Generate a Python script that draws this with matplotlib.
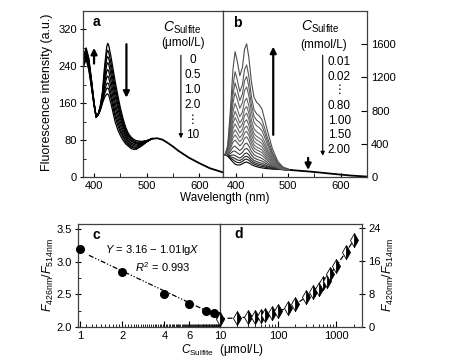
import matplotlib
matplotlib.use('Agg')
import matplotlib.pyplot as plt
import numpy as np
from matplotlib.ticker import NullFormatter, LogLocator

plt.rcParams['font.family'] = ['Liberation Sans', 'DejaVu Sans']
plt.rcParams['mathtext.fontset'] = 'custom'
plt.rcParams['mathtext.rm'] = 'Liberation Sans'
plt.rcParams['mathtext.it'] = 'Liberation Sans:italic'
plt.rcParams['mathtext.bf'] = 'Liberation Sans:bold'
plt.rcParams['font.size'] = 8

# ---------------- Panel a data (umol/L) ----------------
conc_a = ['0', '0.5', '1.0', '2.0', '4.0', '6.0', '8.0', '9.0', '10']
wl_a = [380, 385, 390, 395, 400, 404, 408, 412, 416, 420, 424, 426, 428, 432,
        436, 440, 445, 450, 455, 460, 465, 470, 475, 480, 490, 500, 510]
spec_a0 = [240, 255, 232, 195, 155, 130, 137, 155, 185, 240, 282, 290, 285, 262, 235, 208, 178, 150, 127, 108, 95, 87, 82, 79, 77, 79, 83]
spec_a1 = [243, 259, 236, 197, 156, 130, 137, 154, 182, 231, 268, 275, 270, 248, 222, 196, 168, 142, 120, 103, 91, 84, 79, 76, 76, 79, 83]
spec_a2 = [246, 262, 239, 199, 157, 130, 137, 152, 179, 223, 256, 261, 257, 236, 210, 185, 159, 134, 115, 99, 88, 81, 76, 74, 74, 78, 83]
spec_a3 = [248, 265, 242, 201, 158, 130, 136, 151, 176, 215, 243, 248, 244, 223, 199, 175, 150, 127, 109, 94, 84, 78, 74, 72, 73, 78, 83]
spec_a4 = [251, 268, 246, 204, 159, 130, 136, 150, 172, 205, 229, 233, 229, 209, 186, 162, 139, 119, 103, 89, 80, 74, 71, 69, 72, 77, 83]
spec_a5 = [254, 271, 249, 206, 160, 130, 136, 149, 169, 196, 216, 219, 215, 196, 173, 151, 129, 111, 96, 85, 77, 71, 68, 67, 71, 77, 83]
spec_a6 = [257, 275, 252, 208, 160, 130, 135, 147, 166, 188, 202, 204, 201, 182, 161, 139, 120, 103, 90, 80, 73, 68, 65, 64, 69, 77, 83]
spec_a7 = [259, 277, 255, 210, 161, 130, 135, 146, 163, 181, 192, 193, 190, 172, 151, 131, 112, 97, 86, 76, 70, 65, 63, 62, 68, 76, 83]
spec_a8 = [262, 280, 258, 212, 162, 130, 135, 145, 160, 173, 180, 180, 177, 160, 140, 120, 103, 90, 80, 72, 67, 62, 60, 60, 67, 76, 83]
spectra_a = [spec_a0, spec_a1, spec_a2, spec_a3, spec_a4, spec_a5, spec_a6, spec_a7, spec_a8]
wl_a_tail = [510, 520, 530, 540, 550, 560, 580, 600, 620, 645]
tail_a = [83, 84, 81, 74, 66, 57, 42, 30, 19, 10]

# ---------------- Panel b data (mmol/L) ----------------
conc_b = ['0.01', '0.02', '0.80', '1.00', '1.50', '2.00']
wl_b = [376, 380, 385, 390, 395, 399, 403, 408, 413, 417, 421, 425, 430, 435,
        440, 445, 450, 455, 460, 470, 480, 490, 505]
spectra_b = [
    [265, 270, 250, 215, 180, 155, 145, 145, 160, 175, 180, 170, 150, 135, 125, 115, 110, 105, 100, 95, 92, 88, 84],
    [265, 270, 253, 230, 208, 189, 176, 172, 189, 209, 216, 202, 175, 156, 144, 134, 128, 120, 112, 101, 94, 89, 84],
    [265, 270, 256, 244, 235, 221, 207, 198, 217, 242, 250, 233, 199, 175, 163, 152, 145, 134, 123, 107, 97, 90, 84],
    [265, 270, 260, 260, 266, 259, 242, 228, 249, 280, 290, 269, 227, 199, 185, 173, 165, 151, 136, 114, 100, 90, 84],
    [265, 270, 265, 283, 310, 312, 291, 270, 295, 333, 345, 319, 266, 231, 215, 203, 192, 174, 155, 123, 103, 92, 84],
    [265, 270, 271, 309, 360, 373, 347, 318, 347, 395, 409, 376, 311, 268, 250, 237, 224, 201, 176, 134, 108, 93, 84],
    [265, 270, 278, 340, 420, 445, 414, 375, 408, 467, 485, 444, 364, 312, 291, 277, 262, 232, 201, 147, 113, 95, 84],
    [265, 270, 284, 367, 471, 507, 471, 425, 462, 530, 551, 503, 410, 350, 327, 311, 295, 260, 222, 159, 118, 96, 84],
    [265, 270, 290, 393, 522, 568, 528, 473, 514, 591, 615, 560, 455, 387, 361, 345, 327, 287, 243, 170, 122, 98, 84],
    [265, 270, 297, 424, 581, 640, 594, 530, 575, 664, 690, 628, 508, 430, 403, 385, 364, 318, 268, 183, 127, 100, 84],
    [265, 270, 304, 457, 644, 716, 665, 590, 640, 740, 770, 700, 564, 477, 446, 428, 404, 351, 295, 196, 133, 101, 84],
    [265, 270, 311, 490, 706, 792, 735, 650, 705, 817, 850, 772, 620, 523, 489, 470, 444, 385, 321, 210, 138, 103, 84],
    [265, 270, 320, 531, 785, 887, 823, 726, 786, 912, 950, 861, 690, 581, 544, 523, 493, 426, 354, 227, 145, 105, 84],
    [265, 270, 333, 587, 891, 1015, 942, 828, 897, 1042, 1085, 983, 785, 659, 617, 594, 561, 483, 399, 251, 154, 108, 84],
    [265, 270, 344, 638, 990, 1135, 1052, 922, 999, 1162, 1210, 1095, 873, 732, 685, 661, 623, 535, 440, 272, 163, 111, 84],
    [265, 270, 357, 695, 1100, 1268, 1175, 1028, 1112, 1296, 1350, 1221, 971, 812, 761, 735, 693, 594, 486, 296, 173, 114, 84],
    [260, 270, 380, 800, 1300, 1510, 1400, 1220, 1320, 1540, 1605, 1450, 1150, 960, 900, 870, 820, 700, 570, 340, 190, 120, 84],
]
colors_b = ['0.0', '0.1', '0.15', '0.2', '0.25', '0.3', '0.35', '0.4', '0.4',
            '0.4', '0.4', '0.4', '0.4', '0.38', '0.36', '0.34', '0.3']
wl_b_tail = [505, 520, 540, 560, 580, 600, 620, 650]
tail_b = [84, 76, 66, 54, 41, 29, 17, 5]

# ---------------- Panel c data ----------------
c_x = [1, 2, 4, 6, 8, 9, 10]
c_y = [3.19, 2.84, 2.51, 2.36, 2.24, 2.21, 2.17]
c_fit_x = [1.15, 10]
c_fit_y = [3.10, 2.15]
c_ticks = [1, 2, 4, 6, 10]
c_ticklabels = ['1', '2', '4', '6', '10']

# ---------------- Panel d data ----------------
d_x = [10, 20, 30, 40, 50, 60, 80, 100, 150, 200, 300, 400, 500, 600, 700, 800, 1000, 1500, 2000]
d_y = [2.04, 2.2, 2.4, 2.5, 2.6, 2.8, 3.3, 3.8, 4.7, 5.5, 7.2, 8.5, 9.2, 10.6, 11.1, 12.9, 14.8, 18.3, 21.0]

W, H = 450, 363
fig = plt.figure(figsize=(4.5, 3.63), dpi=100)

def rect(l, t, r, b):
    return [l / W, 1 - b / H, (r - l) / W, (b - t) / H]

ax_a = fig.add_axes(rect(83, 11, 223, 177))
ax_b = fig.add_axes(rect(223, 11, 367, 177))
ax_c = fig.add_axes(rect(78, 224, 220, 327))
ax_d = fig.add_axes(rect(220, 224, 362, 327))

for ax in (ax_a, ax_b, ax_c, ax_d):
    for s in ax.spines.values():
        s.set_linewidth(0.9)
        s.set_color('0.25')

def arrow(ax, x, y0, y1, lw=1.6, ms=9):
    ax.annotate('', xy=(x, y1), xytext=(x, y0),
                arrowprops=dict(arrowstyle='-|>', color='black', lw=lw,
                                mutation_scale=ms, shrinkA=0, shrinkB=0))

# ---- panel a ----
for s in spectra_a:
    ax_a.plot(wl_a, s, color='black', lw=0.9)
ax_a.plot(wl_a_tail, tail_a, color='black', lw=1.3)
ax_a.set_xlim(379, 645)
ax_a.set_ylim(0, 360)
ax_a.set_xticks([400, 500, 600])
ax_a.set_xticks([450, 550], minor=True)
ax_a.set_yticks([0, 80, 160, 240, 320])
ax_a.set_yticks([40, 120, 200, 280], minor=True)
ax_a.tick_params(axis='x', which='both', direction='in', length=3, pad=3, labelsize=8)
ax_a.tick_params(axis='y', which='major', direction='inout', length=5, pad=2, labelsize=8)
ax_a.tick_params(axis='y', which='minor', direction='in', length=2.5)
ax_a.text(0.07, 0.935, 'a', transform=ax_a.transAxes, fontsize=10, fontweight='bold', va='center')
ax_a.text(568, 323, r'$C_{\mathrm{Sulfite}}$', fontsize=10, ha='center', va='center')
ax_a.text(569, 290, '(μmol/L)', fontsize=8.5, ha='center', va='center')
labels_a_y = [253, 221, 188.5, 156, 123.5, 91]
labels_a_t = ['0', '0.5', '1.0', '2.0', '⋮', '10']
for yv, t in zip(labels_a_y, labels_a_t):
    ax_a.text(587, yv, t, fontsize=8.5, ha='center', va='center')
arrow(ax_a, 565, 264, 84, lw=0.8, ms=6)
arrow(ax_a, 400, 246, 280, lw=1.6, ms=9)
arrow(ax_a, 461.5, 288, 172, lw=1.6, ms=9)

# ---- panel b ----
for s, c in zip(spectra_b, colors_b):
    ax_b.plot(wl_b, s, color=c, lw=0.8)
ax_b.plot(wl_b_tail, tail_b, color='black', lw=1.3)
ax_b.set_xlim(376, 650)
ax_b.set_ylim(0, 2000)
ax_b.set_xticks([400, 500, 600])
ax_b.set_xticks([450, 550], minor=True)
ax_b.yaxis.tick_right()
ax_b.set_yticks([0, 400, 800, 1200, 1600])
ax_b.tick_params(axis='x', which='both', direction='in', length=3, pad=3, labelsize=8)
ax_b.tick_params(axis='y', direction='in', length=4, pad=3, labelsize=8,
                 left=False, right=True, labelleft=False, labelright=True)
ax_b.text(0.07, 0.925, 'b', transform=ax_b.transAxes, fontsize=10, fontweight='bold', va='center')
ax_b.text(562, 1807, r'$C_{\mathrm{Sulfite}}$', fontsize=10, ha='center', va='center')
ax_b.text(568, 1595, '(mmol/L)', fontsize=8.5, ha='center', va='center')
labels_b_y = [1387, 1207, 1048, 860, 680, 500, 320]
labels_b_t = ['0.01', '0.02', '⋮', '0.80', '1.00', '1.50', '2.00']
for yv, t in zip(labels_b_y, labels_b_t):
    ax_b.text(597, yv, t, fontsize=8.5, ha='center', va='center')
arrow(ax_b, 565.7, 1467, 255, lw=0.8, ms=6)
arrow(ax_b, 471.6, 508, 1570, lw=1.6, ms=9)
arrow(ax_b, 538, 230, 85, lw=1.6, ms=9)

fig.text(0.104, 0.745, 'Fluorescence intensity (a.u.)', rotation=90,
         ha='center', va='center', fontsize=9)
fig.text(0.50, 0.455, 'Wavelength (nm)', ha='center', va='center', fontsize=8.5)

# ---- panel c ----
ax_c.set_xscale('log')
ax_c.plot(c_fit_x, c_fit_y, color='black', lw=0.9, ls=(0, (4, 1.5, 1, 1.5, 1, 1.5)))
ax_c.plot(c_x, c_y, 'o', color='black', ms=5.5, clip_on=False, zorder=5)
ax_c.set_xlim(0.96, 10)
ax_c.set_ylim(2.0, 3.58)
ax_c.set_xticks(c_ticks)
ax_c.set_xticklabels(c_ticklabels)
ax_c.set_xticks(np.arange(1.1, 10.0, 0.1), minor=True)
ax_c.xaxis.set_minor_formatter(NullFormatter())
ax_c.set_yticks([2.0, 2.5, 3.0, 3.5])
ax_c.set_yticklabels(['2.0', '2.5', '3.0', '3.5'])
ax_c.set_yticks([2.25, 2.75, 3.25], minor=True)
ax_c.tick_params(axis='x', which='major', direction='in', length=4, pad=3, labelsize=8)
ax_c.tick_params(axis='x', which='minor', direction='in', length=2)
ax_c.tick_params(axis='y', which='major', direction='inout', length=5, pad=2, labelsize=8)
ax_c.tick_params(axis='y', which='minor', direction='in', length=2.5)
ax_c.text(0.1, 0.89, 'c', transform=ax_c.transAxes, fontsize=10, fontweight='bold', va='center')
ax_c.text(0.52, 0.75, r'$Y$ = 3.16 − 1.01lg$X$', transform=ax_c.transAxes,
          fontsize=8, ha='center', va='center')
ax_c.text(0.60, 0.585, r'$R^2$ = 0.993', transform=ax_c.transAxes,
          fontsize=8, ha='center', va='center')

# ---- panel d ----
ax_d.set_xscale('log')
ax_d.plot(d_x, d_y, color='black', lw=0.9, ls=(0, (4, 2)))
ax_d.plot(d_x, d_y, 'd', ms=7.5, fillstyle='right', markerfacecolor='black',
          markerfacecoloralt='white', markeredgecolor='black', mew=0.6,
          clip_on=False, zorder=5, ls='none')
ax_d.set_xlim(10, 2800)
ax_d.set_ylim(0, 25)
ax_d.set_xticks([100, 1000])
ax_d.set_xticklabels(['100', '1000'])
ax_d.xaxis.set_minor_locator(LogLocator(base=10, subs=np.arange(2, 10)))
ax_d.xaxis.set_minor_formatter(NullFormatter())
ax_d.yaxis.tick_right()
ax_d.set_yticks([0, 8, 16, 24])
ax_d.tick_params(axis='x', which='major', direction='in', length=4, pad=3, labelsize=8)
ax_d.tick_params(axis='x', which='minor', direction='in', length=2)
ax_d.tick_params(axis='y', direction='inout', length=5, pad=2, labelsize=8,
                 left=False, right=True, labelleft=False, labelright=True)
ax_d.text(0.1, 0.9, 'd', transform=ax_d.transAxes, fontsize=10, fontweight='bold', va='center')

fig.text(0.107, 0.242, r'$F_{\mathrm{426nm}}/F_{\mathrm{514nm}}$', rotation=90,
         ha='center', va='center', fontsize=9)
fig.text(0.864, 0.242, r'$F_{\mathrm{420nm}}/F_{\mathrm{514nm}}$', rotation=90,
         ha='center', va='center', fontsize=9)
fig.text(0.495, 0.036, r'$C_{\mathrm{Sulfite}}$  (μmol/L)', ha='center', va='center', fontsize=8.5)

fig.savefig('out.png', dpi=100)
